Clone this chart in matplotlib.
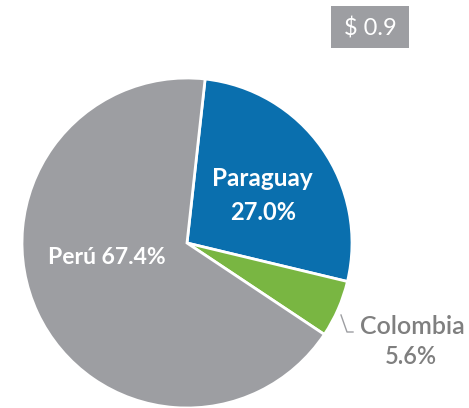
import matplotlib
matplotlib.use("Agg")
import matplotlib.pyplot as plt

labels = ["Paraguay", "Colombia", "Perú"]
values = [27.0, 5.6, 67.4]
colors = ["#0a6fae", "#79b642", "#9d9ea2"]
total_label = "$ 0.9"

W, H = 469, 408
fig = plt.figure(figsize=(W / 100, H / 100), dpi=100)
ax = fig.add_axes([0, 0, 1, 1])

cx, cy, r = 187, H - 243, 165
ax.pie(values, colors=colors, startangle=83.7, counterclock=False,
       center=(cx, cy), radius=r, frame=True,
       wedgeprops=dict(edgecolor="white", linewidth=2))
ax.set_xlim(0, W)
ax.set_ylim(0, H)
ax.set_aspect("equal")
ax.axis("off")

fam = ["Lato", "DejaVu Sans"]
ax.text(262, H - 179, labels[0], color="white", fontsize=17.5, fontweight="bold",
        ha="center", va="center", family=fam)
ax.text(263, H - 213, f"{values[0]:.1f}%", color="white", fontsize=17, fontweight="bold",
        ha="center", va="center", family=fam)
ax.text(107, H - 258, f"{labels[2]} {values[2]:.1f}%", color="white", fontsize=16.5,
        fontweight="bold", ha="center", va="center", family=fam)
ax.text(412, H - 326, labels[1], color="#7f7f7f", fontsize=18, fontweight="semibold",
        ha="center", va="center", family=fam)
ax.text(411, H - 357, f"{values[1]:.1f}%", color="#7f7f7f", fontsize=17,
        fontweight="semibold", ha="center", va="center", family=fam)
ax.plot([341, 347, 353], [H - 315, H - 332, H - 332], color="#9d9ea2", lw=1)

# total box
ax.add_patch(plt.Rectangle((331, H - 48), 78, 42, facecolor="#9d9ea2", edgecolor="none"))
ax.text(370, H - 28, total_label, color="white", fontsize=17, fontweight="normal",
        ha="center", va="center", family=fam)

fig.savefig("out.png", dpi=100)
